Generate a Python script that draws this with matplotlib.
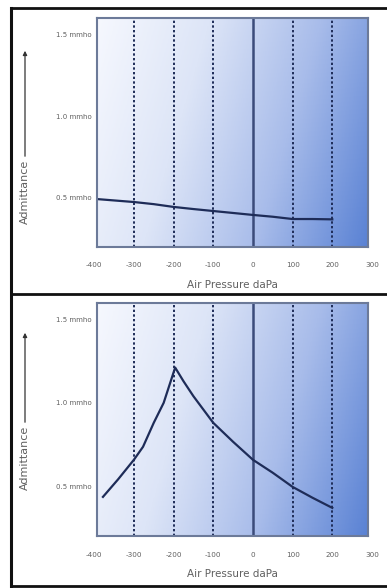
import numpy as np
import matplotlib
matplotlib.use("Agg")
import matplotlib.pyplot as plt
from matplotlib.colors import LinearSegmentedColormap
from matplotlib.lines import Line2D

# dati (pressione in daPa, ammettenza in mmho)
xticks = [-400, -300, -200, -100, 0, 100, 200, 300]
grid_dotted = [-300, -200, -100, 100, 200]
yticks = [0.5, 1.0, 1.5]
ylabels = ["0.5 mmho", "1.0 mmho", "1.5 mmho"]

p_top = [-393, -300, -250, -200, -150, -100, -50, 0, 50, 100, 150, 200]
y_top = [0.493, 0.475, 0.462, 0.445, 0.432, 0.42, 0.408, 0.396, 0.385, 0.371, 0.371, 0.369]

p_bot = [-378, -340, -300, -277, -250, -225, -196, -175, -150, -125, -100, -50, 0, 50, 100, 150, 200]
y_bot = [0.435, 0.54, 0.658, 0.736, 0.88, 1.0, 1.212, 1.13, 1.04, 0.96, 0.88, 0.766, 0.658, 0.58, 0.495, 0.43, 0.369]

navy = "#1e2c58"
gray = "#606060"

fig = plt.figure(figsize=(3.87, 5.88), dpi=100)
fig.patch.set_facecolor("white")

cmap = LinearSegmentedColormap.from_list("bg", ["#f6f8fe", "#dde5f7", "#a8bcea", "#5a82d4"])
gx, gy = np.meshgrid(np.linspace(0, 1, 200), np.linspace(0, 1, 200))
grad = 0.8 * gx + 0.2 * gy  # piu' scuro a destra e in basso


def pannello(rect, p, y):
    ax = fig.add_axes(rect)
    xmin, xmax, ymin, ymax = -393, 290, 0.2, 1.6
    ax.imshow(grad, cmap=cmap, extent=[xmin, xmax, ymin, ymax], origin="upper",
              aspect="auto", zorder=0, vmin=0, vmax=1)
    ax.set_xlim(xmin, xmax)
    ax.set_ylim(ymin, ymax)
    for g in grid_dotted:
        ax.axvline(g, color=navy, lw=1.4, ls=(0, (1.2, 1.2)), zorder=1)
    ax.axvline(0, color="#3b4b7a", lw=1.8, zorder=1)
    ax.plot(p, y, color=navy, lw=1.6, zorder=2)
    ax.set_xticks([])
    ax.set_yticks(yticks)
    ax.set_yticklabels(ylabels, fontsize=5, color=gray)
    ax.tick_params(axis="y", length=0, pad=4)
    for t in xticks:
        ax.text(t, -0.08, str(t), transform=ax.get_xaxis_transform(), ha="center",
                va="center", fontsize=5.2, color=gray)
    ax.text(0.5, -0.165, "Air Pressure daPa", transform=ax.transAxes, ha="center",
            va="center", fontsize=7.5, color=gray)
    for s in ax.spines.values():
        s.set_color("#6c7a99")
        s.set_linewidth(1.5)
    return ax


ax1 = pannello([97 / 387, 1 - 247 / 588, 271 / 387, 229 / 588], p_top, y_top)
ax2 = pannello([97 / 387, 1 - 536 / 588, 271 / 387, 233 / 588], p_bot, y_bot)

# etichetta asse y con freccia verso l'alto
for yc, ytop in [(192, 48), (458, 330)]:
    fig.text(25 / 387, 1 - yc / 588, "Admittance", rotation=90, ha="center",
             va="center", fontsize=8, color=gray)
    fig.add_artist(plt.Annotation("", xy=(25 / 387, 1 - ytop / 588),
                                  xytext=(25 / 387, 1 - (yc - 33) / 588),
                                  xycoords="figure fraction",
                                  arrowprops=dict(arrowstyle="-|>", color="#333333",
                                                  lw=0.9, mutation_scale=6)))

# cornice esterna
def fig_line(x0, y0, x1, y1, lw):
    fig.add_artist(Line2D([x0 / 387, x1 / 387], [1 - y0 / 588, 1 - y1 / 588],
                          color="#111111", lw=lw))

fig_line(11, 8, 395, 8, 2)
fig_line(11, 294, 395, 294, 2)
fig_line(11, 586, 395, 586, 2)
fig_line(11, 8, 11, 586, 2.2)

fig.savefig("out.png", dpi=100)
